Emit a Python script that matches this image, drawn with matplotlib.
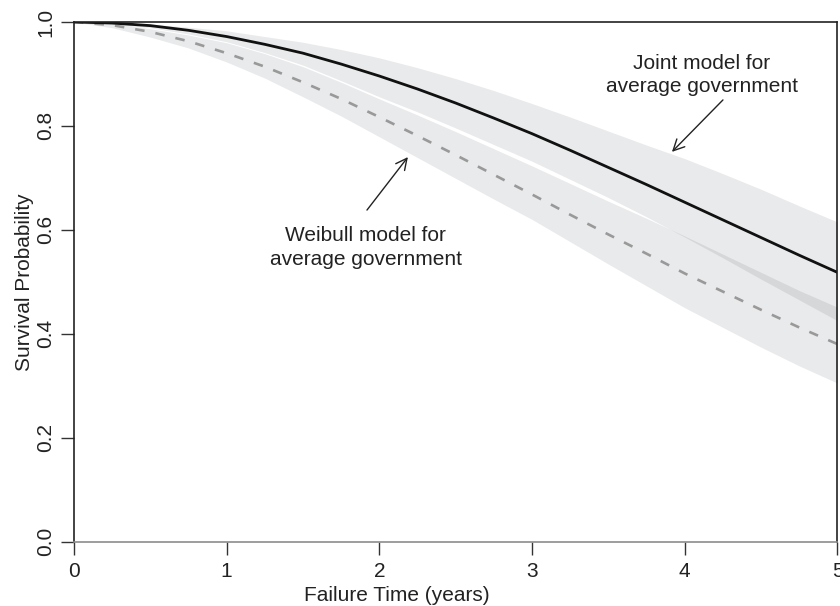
import matplotlib
matplotlib.use("Agg")
import matplotlib.pyplot as plt

plt.rcParams['font.family'] = ['Liberation Sans', 'DejaVu Sans']

# failure time grid (years)
t = [0, 0.25, 0.5, 0.75, 1, 1.25, 1.5, 1.75, 2, 2.25, 2.5,
     2.75, 3, 3.25, 3.5, 3.75, 4, 4.25, 4.5, 4.75, 5]

# joint model for average government (estimate + band)
joint = [1.0, 0.998, 0.993, 0.984, 0.972, 0.957, 0.940, 0.919, 0.896, 0.871, 0.844,
         0.815, 0.785, 0.753, 0.720, 0.687, 0.653, 0.619, 0.585, 0.551, 0.518]
joint_hi = [1.0, 0.999, 0.996, 0.990, 0.983, 0.972, 0.961, 0.947, 0.931, 0.912, 0.891,
            0.868, 0.843, 0.817, 0.790, 0.763, 0.737, 0.708, 0.678, 0.646, 0.615]
joint_lo = [1.0, 0.996, 0.989, 0.977, 0.962, 0.941, 0.917, 0.887, 0.856, 0.827, 0.796,
            0.764, 0.732, 0.697, 0.662, 0.625, 0.586, 0.546, 0.505, 0.465, 0.425]

# weibull model for average government (estimate + band)
weib = [1.0, 0.994, 0.981, 0.963, 0.940, 0.914, 0.884, 0.852, 0.817, 0.781, 0.744,
        0.706, 0.668, 0.629, 0.591, 0.554, 0.516, 0.481, 0.446, 0.412, 0.380]
weib_hi = [1.0, 0.997, 0.987, 0.975, 0.960, 0.939, 0.914, 0.884, 0.852, 0.821, 0.789,
           0.756, 0.723, 0.689, 0.655, 0.622, 0.588, 0.553, 0.518, 0.483, 0.451]
weib_lo = [1.0, 0.989, 0.971, 0.950, 0.923, 0.892, 0.856, 0.819, 0.779, 0.739, 0.699,
           0.659, 0.620, 0.577, 0.534, 0.492, 0.450, 0.412, 0.374, 0.338, 0.305]

fig = plt.figure(figsize=(8.4, 6.06), dpi=100)
ax = fig.add_axes([0.088, 0.1064, 0.909, 0.8573])

band = '#343a46'
ax.fill_between(t, weib_lo, weib_hi, color=band, alpha=0.105, lw=0)
ax.fill_between(t, joint_lo, joint_hi, color=band, alpha=0.105, lw=0)

ax.plot(t, weib, color='#999999', lw=1.9, dashes=(3.6, 4.2), solid_capstyle='butt')
ax.plot(t, joint, color='#111111', lw=2.0)

ax.set_xlim(0, 5)
ax.set_ylim(0, 1)
ax.set_xticks([0, 1, 2, 3, 4, 5])
ax.set_yticks([0.0, 0.2, 0.4, 0.6, 0.8, 1.0])
ax.set_yticklabels(['0.0', '0.2', '0.4', '0.6', '0.8', '1.0'], rotation=90, va='center')
ax.tick_params(direction='out', length=9.5, width=1.0, color='#333333',
               labelsize=15, labelcolor='#222222', pad=4)
ax.tick_params(axis='x', pad=5)

for s in ['left', 'top', 'right']:
    ax.spines[s].set_color('#222222')
    ax.spines[s].set_linewidth(1.2)
ax.spines['bottom'].set_color('#8c8c8c')
ax.spines['bottom'].set_linewidth(1.2)

ax.set_xlabel('Failure Time (years)', fontsize=15, color='#222222')
ax.set_ylabel('Survival Probability', fontsize=15, color='#222222')
ax.xaxis.set_label_coords(0.423, -0.085)
ax.yaxis.set_label_coords(-0.052, 0.5)

# labels and arrows
ax.text(4.113, 0.898, 'Joint model for\naverage government', ha='center', va='center',
        fontsize=15, color='#222222', linespacing=1.3)
ax.annotate('', xy=(3.916, 0.750), xytext=(4.25, 0.850),
            arrowprops=dict(arrowstyle='->', color='#222222', lw=1.0,
                            mutation_scale=20, shrinkA=0, shrinkB=0))
ax.text(1.912, 0.566, 'Weibull model for\naverage government', ha='center', va='center',
        fontsize=15, color='#222222', linespacing=1.3)
ax.annotate('', xy=(2.187, 0.740), xytext=(1.919, 0.638),
            arrowprops=dict(arrowstyle='->', color='#222222', lw=1.0,
                            mutation_scale=20, shrinkA=0, shrinkB=0))

fig.savefig('out.png', dpi=100)
